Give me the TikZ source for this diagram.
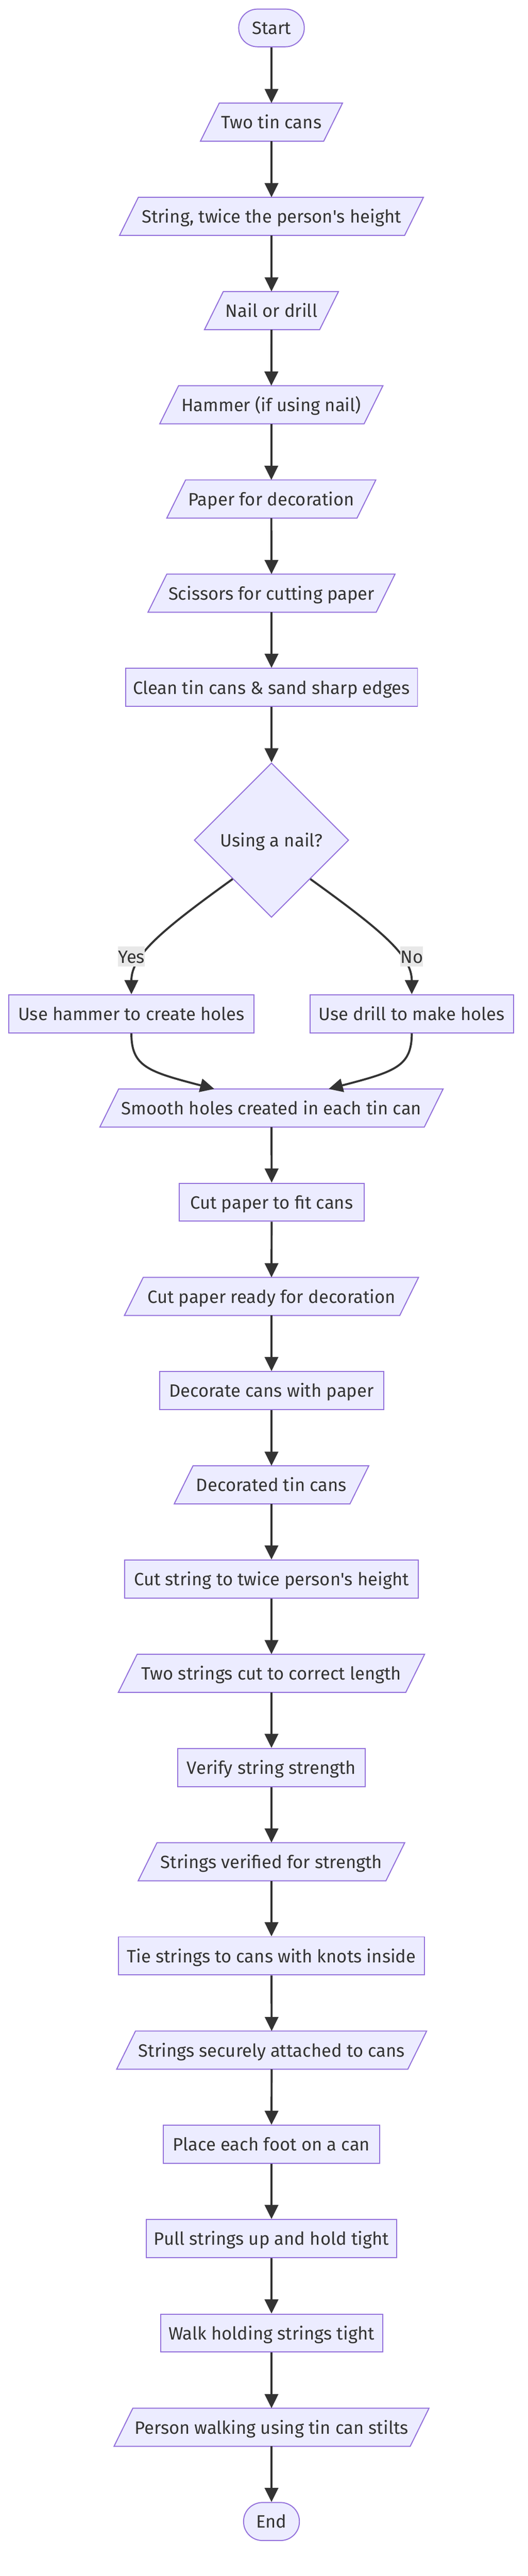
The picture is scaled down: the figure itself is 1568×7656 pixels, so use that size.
\documentclass[tikz,border=0pt]{standalone}
\usepackage{fontspec}
\setmainfont{Fira Sans}
\usetikzlibrary{shapes.geometric,arrows.meta}
\pgfdeclarelayer{bg}
\pgfsetlayers{bg,main}
\definecolor{nodefill}{HTML}{ECECFF}
\definecolor{nodeline}{HTML}{9370DB}
\definecolor{edgecol}{HTML}{333333}
\definecolor{txtcol}{HTML}{333333}
\definecolor{lblbg}{HTML}{E8E8E8}
\newcommand{\apos}{\textquotesingle}
\begin{document}
\begin{tikzpicture}[x=1pt,y=-1pt,
  base/.style={text=txtcol, font=\fontsize{53}{60}\selectfont, inner sep=0pt,
    minimum height=113pt, text height=40pt, text depth=1pt},
  box/.style={base, rectangle, draw=nodeline, fill=nodefill, line width=3pt},
  para/.style={base, rectangle},
  term/.style={box, rounded corners=56pt},
  dia/.style={base, diamond, aspect=1, draw=nodeline, fill=nodefill, line width=3pt,
    minimum width=459pt, minimum height=459pt},
  paraline/.style={draw=nodeline, fill=nodefill, line width=3pt, line join=miter},
  arr/.style={draw=edgecol, line width=6pt, -{Triangle[length=42pt,width=40pt]}},
  lbl/.style={text=txtcol, font=\fontsize{53}{60}\selectfont, fill=lblbg, inner sep=0pt,
    minimum width=75pt, minimum height=60pt, text height=40pt, text depth=1pt}
]
\useasboundingbox (0,0) rectangle (1568,7656);

% nodes
\node[term, minimum width=195pt, minimum height=112pt] (start) at (807,83) {Start};
\node[para, minimum width=366pt] (tin) at (807,363) {Two tin cans};
\node[para, minimum width=847pt] (string) at (807,643) {String, twice the person\apos s height};
\node[para, minimum width=342pt] (nail) at (807,923) {Nail or drill};
\node[para, minimum width=607pt] (hammer) at (806.5,1203) {Hammer (if using nail)};
\node[para, minimum width=565pt] (paper) at (806.5,1483) {Paper for decoration};
\node[para, minimum width=678pt] (scissors) at (807,1763) {Scissors for cutting paper};
\node[box, minimum width=868pt] (clean) at (807,2043) {Clean tin cans \& sand sharp edges};
\node[dia] (dec) at (807,2497) {Using a nail?};
\node[box, minimum width=729pt] (usehammer) at (390.5,3013) {Use hammer to create holes};
\node[box, minimum width=604pt] (usedrill) at (1224,3013) {Use drill to make holes};
\node[para, minimum width=964pt] (smooth) at (807,3293) {Smooth holes created in each tin can};
\node[box, minimum width=549pt] (cutpaper) at (807.5,3573) {Cut paper to fit cans};
\node[para, minimum width=818pt] (ready) at (807,3853) {Cut paper ready for decoration};
\node[box, minimum width=666pt] (decorate) at (807,4133) {Decorate cans with paper};
\node[para, minimum width=522pt] (decorated) at (807,4413) {Decorated tin cans};
\node[box, minimum width=874pt] (cutstring) at (807,4693) {Cut string to twice person\apos s height};
\node[para, minimum width=854pt] (twostrings) at (807,4973) {Two strings cut to correct length};
\node[box, minimum width=558pt] (verify) at (807,5253) {Verify string strength};
\node[para, minimum width=736pt] (verified) at (807,5533) {Strings verified for strength};
\node[box, minimum width=910pt] (tie) at (807,5813) {Tie strings to cans with knots inside};
\node[para, minimum width=865pt] (securely) at (807.5,6093) {Strings securely attached to cans};
\node[box, minimum width=644pt] (place) at (807,6373) {Place each foot on a can};
\node[box, minimum width=744pt] (pull) at (807,6653) {Pull strings up and hold tight};
\node[box, minimum width=660pt] (walk) at (807,6934) {Walk holding strings tight};
\node[para, minimum width=880pt] (person) at (807,7214) {Person walking using tin can stilts};
\node[term, minimum width=166pt] (end) at (807,7494) {End};

% background: white page and parallelogram shapes
\begin{pgfonlayer}{bg}
\fill[white] (0,0) rectangle (1568,7656);
\foreach \n in {tin,string,nail,hammer,paper,scissors,smooth,ready,decorated,twostrings,verified,securely,person}
  \filldraw[paraline] ([xshift=-28pt]\n.south west) -- ([xshift=28pt]\n.north west)
     -- ([xshift=28pt]\n.north east) -- ([xshift=-28pt]\n.south east) -- cycle;
\end{pgfonlayer}

% straight connectors
\foreach \a/\b in {start/tin,tin/string,string/nail,nail/hammer,hammer/paper,paper/scissors,
  scissors/clean,clean/dec,smooth/cutpaper,cutpaper/ready,ready/decorate,decorate/decorated,
  decorated/cutstring,cutstring/twostrings,twostrings/verify,verify/verified,verified/tie,
  tie/securely,securely/place,place/pull,pull/walk,walk/person,person/end}
  \draw[arr] (\a.south) -- (\b.north);

% branch connectors
\draw[arr] (dec.south west) .. controls (480,2765) and (390.5,2840) .. (usehammer.north);
\draw[arr] (dec.south east) .. controls (1134,2765) and (1224,2840) .. (usedrill.north);
\draw[arr] (usehammer.south) .. controls (390.5,3170) and (440,3185) .. ([xshift=-170pt]smooth.north);
\draw[arr] (usedrill.south) .. controls (1224,3170) and (1174,3185) .. ([xshift=170pt]smooth.north);

% edge labels
\node[lbl] (yes) at (390.5,2843) {Yes};
\node[lbl, minimum width=64pt] (no) at (1224,2843) {No};
\end{tikzpicture}
\end{document}
